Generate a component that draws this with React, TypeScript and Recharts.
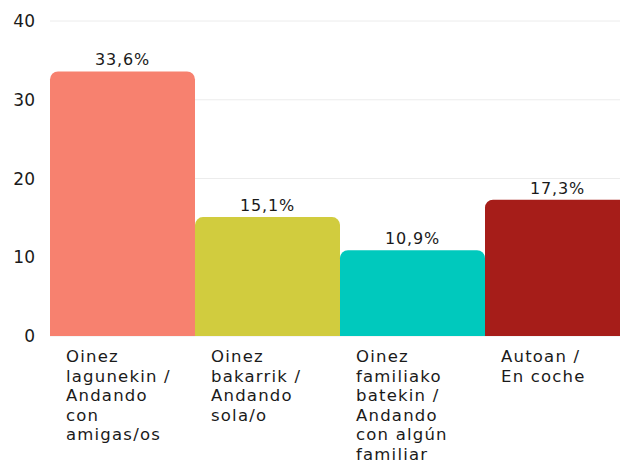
import React from "react";
import { BarChart, Bar, XAxis, YAxis, CartesianGrid, LabelList, Cell } from "recharts";

const categories = ["lagunekin", "bakarrik", "familiakoa", "autoan"];
const categoryLabels: string[][] = [
  ["Oinez", "lagunekin /", "Andando", "con", "amigas/os"],
  ["Oinez", "bakarrik /", "Andando", "sola/o"],
  ["Oinez", "familiako", "batekin /", "Andando", "con algún", "familiar"],
  ["Autoan /", "En coche"],
];
const values = [33.6, 15.1, 10.9, 17.3];
const colors = ["#F7816F", "#D1CC3E", "#00C9BD", "#A61D19"];
const yTicks = [0, 10, 20, 30, 40];

const data = categories.map((c, i) => ({ name: c, value: values[i], idx: i }));

const FONT = "'DejaVu Sans', sans-serif";

const XTick = (props: any) => {
  const { x, y, payload } = props;
  const lines = categoryLabels[payload.index] || [];
  const startX = x - 72.5 + 16;
  return (
    <text x={startX} y={y + 2} fill="#1a1a1a" fontSize={16.5} letterSpacing={1.2} fontFamily={FONT} textAnchor="start">
      {lines.map((l, i) => (
        <tspan key={i} x={startX} dy={i === 0 ? 16 : 19.5}>
          {l}
        </tspan>
      ))}
    </text>
  );
};

export default function App() {
  return (
    <div style={{ position: "absolute", left: 0, top: 0, width: 620, height: 463, overflow: "hidden", background: "#fff" }}>
      <BarChart
        width={640}
        height={463}
        data={data}
        margin={{ top: 21, right: 10, bottom: 0, left: 0 }}
        barCategoryGap={0}
      >
        <CartesianGrid vertical={false} stroke="#ececec" />
        <XAxis
          dataKey="name"
          axisLine={false}
          tickLine={false}
          interval={0}
          height={127}
          tick={<XTick />}
        />
        <YAxis
          domain={[0, 40]}
          ticks={yTicks}
          axisLine={false}
          tickLine={false}
          width={50}
          tickMargin={9}
          tick={{ fill: "#1a1a1a", fontSize: 17, fontFamily: FONT }}
        />
        <Bar dataKey="value" isAnimationActive={false} radius={[8, 8, 0, 0]}>
          {data.map((d, i) => (
            <Cell key={i} fill={colors[i]} />
          ))}
          <LabelList
            dataKey="value"
            position="top"
            offset={6}
            fill="#1a1a1a"
            fontSize={16}
            letterSpacing={0.8}
            fontFamily={FONT}
            formatter={(v: any) => Number(v).toFixed(1).replace(".", ",") + "%"}
          />
        </Bar>
      </BarChart>
    </div>
  );
}
